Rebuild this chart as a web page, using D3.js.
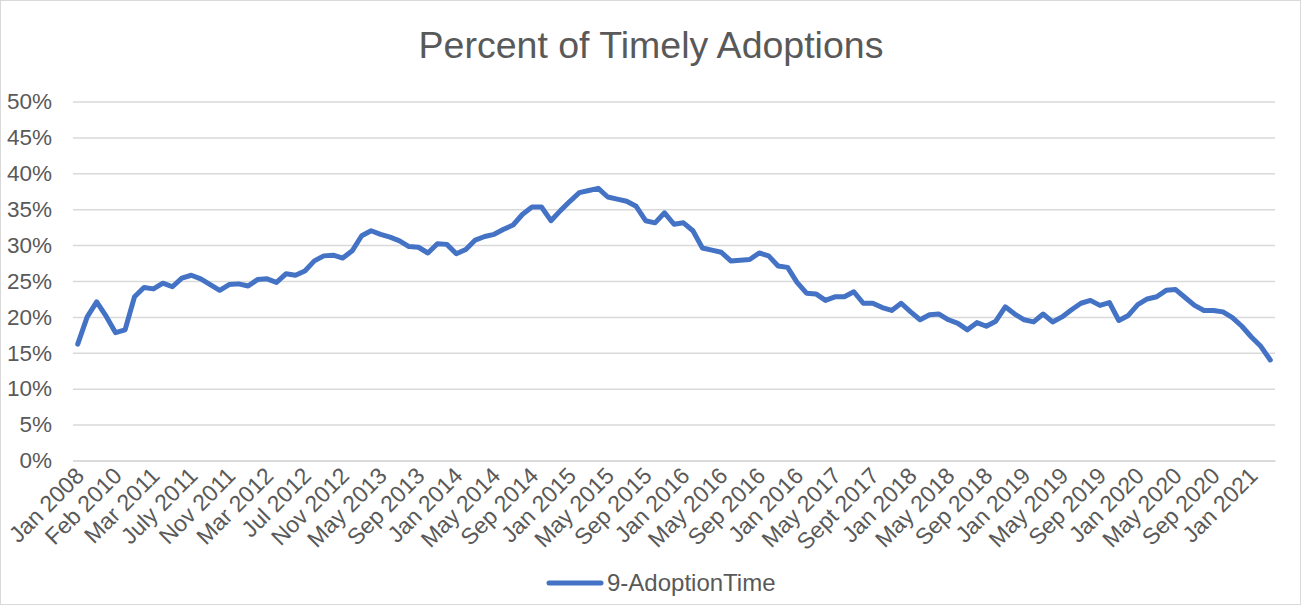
<!DOCTYPE html>
<html>
<head>
<meta charset="utf-8">
<script src="https://cdn.jsdelivr.net/npm/d3@7"></script>
<style>
  body { margin: 0; background: #fff; }
  svg text { font-family: "Liberation Sans", Arial, sans-serif; fill: #595959; }
</style>
</head>
<body>
<svg id="chart"></svg>
<script>
const width = 1301;
const height = 605;

const title = 'Percent of Timely Adoptions';
const seriesName = '9-AdoptionTime';

// one label shown for every 4th point
const labels = ['Jan 2008', 'Feb 2010', 'Mar 2011', 'July 2011', 'Nov 2011', 'Mar 2012', 'Jul 2012', 'Nov 2012',
  'May 2013', 'Sep 2013', 'Jan 2014', 'May 2014', 'Sep 2014', 'Jan 2015', 'May 2015', 'Sep 2015',
  'Jan 2016', 'May 2016', 'Sep 2016', 'Jan 2016', 'May 2017', 'Sept 2017', 'Jan 2018', 'May 2018',
  'Sep 2018', 'Jan 2019', 'May 2019', 'Sep 2019', 'Jan 2020', 'May 2020', 'Sep 2020', 'Jan 2021'];
const labelEvery = 4;

// percent values
const values = [
  16.2, 20.0, 22.1, 20.1, 17.8, 18.2, 22.8, 24.1, 23.9, 24.7, 24.2, 25.4, 25.8, 25.3, 24.5, 23.7,
  24.5, 24.6, 24.3, 25.2, 25.3, 24.8, 26.0, 25.8, 26.4, 27.8, 28.5, 28.6, 28.2, 29.2, 31.3, 32.0,
  31.5, 31.1, 30.6, 29.8, 29.7, 28.9, 30.2, 30.1, 28.8, 29.4, 30.7, 31.2, 31.5, 32.2, 32.8, 34.3,
  35.3, 35.3, 33.4, 34.8, 36.1, 37.3, 37.6, 37.9, 36.7, 36.4, 36.1, 35.4, 33.4, 33.1, 34.5, 32.9,
  33.1, 32.0, 29.6, 29.3, 29.0, 27.8, 27.9, 28.0, 28.9, 28.5, 27.1, 26.9, 24.8, 23.3, 23.2, 22.3,
  22.8, 22.8, 23.5, 21.9, 21.9, 21.3, 20.9, 21.9, 20.7, 19.6, 20.3, 20.4, 19.6, 19.1, 18.2,
  19.2, 18.7, 19.4, 21.4, 20.4, 19.6, 19.3, 20.4, 19.3, 20.0, 21.0, 21.9, 22.3, 21.6, 22.0, 19.5,
  20.2, 21.7, 22.5, 22.8, 23.7, 23.8, 22.7, 21.6, 20.9, 20.9, 20.7, 19.9, 18.7, 17.2, 15.9, 14.0
];
const yTicks = [0, 0.05, 0.10, 0.15, 0.20, 0.25, 0.30, 0.35, 0.40, 0.45, 0.50];

const plot = { left: 73, right: 1275, top: 101.5, bottom: 460.5 };

const svg = d3.select('#chart')
  .attr('width', width)
  .attr('height', height);

svg.append('rect')
  .attr('x', 0.5).attr('y', 0.5)
  .attr('width', width - 1).attr('height', height - 1)
  .attr('fill', '#fff')
  .attr('stroke', '#d9d9d9');

const x = d3.scaleBand().domain(d3.range(values.length)).range([plot.left, plot.right]);
const y = d3.scaleLinear().domain([0, 0.5]).range([plot.bottom, plot.top]);
const cx = i => x(i) + x.bandwidth() / 2;

// gridlines + y labels
const yAxis = svg.append('g')
  .attr('transform', `translate(${plot.left},0)`)
  .call(d3.axisLeft(y).tickValues(yTicks).tickFormat(d3.format('.0%'))
    .tickSize(-(plot.right - plot.left)).tickPadding(21));
yAxis.select('.domain').remove();
yAxis.selectAll('line').attr('stroke', '#d9d9d9').attr('stroke-width', 1.5);
yAxis.selectAll('text').attr('font-size', 22.5).style('fill', '#595959');

// x labels
const xAxis = svg.append('g')
  .attr('transform', `translate(0,${plot.bottom})`)
  .call(d3.axisBottom(x)
    .tickValues(labels.map((_, k) => k * labelEvery))
    .tickFormat(i => labels[i / labelEvery])
    .tickSize(0));
xAxis.select('.domain').attr('stroke', '#d9d9d9').attr('stroke-width', 1.5);
xAxis.selectAll('text')
  .attr('font-size', 23)
  .style('fill', '#595959')
  .attr('text-anchor', 'end')
  .attr('y', 0).attr('dy', '0.35em')
  .attr('transform', 'translate(2,11) rotate(-45)');

// line
svg.append('path')
  .datum(values)
  .attr('fill', 'none')
  .attr('stroke', '#4472c4')
  .attr('stroke-width', 5)
  .attr('stroke-linejoin', 'round')
  .attr('stroke-linecap', 'round')
  .attr('d', d3.line().x((d, i) => cx(i)).y(d => y(d / 100)));

svg.append('text')
  .attr('x', 651).attr('y', 58)
  .attr('text-anchor', 'middle')
  .attr('font-size', 37.5)
  .text(title);

// legend
const legend = svg.append('g').attr('transform', 'translate(549,583)');
legend.append('line')
  .attr('x1', 0).attr('x2', 52)
  .attr('stroke', '#4472c4').attr('stroke-width', 5)
  .attr('stroke-linecap', 'round');
legend.append('text')
  .attr('x', 58).attr('dy', '0.35em')
  .attr('font-size', 24)
  .text(seriesName);
</script>
</body>
</html>
